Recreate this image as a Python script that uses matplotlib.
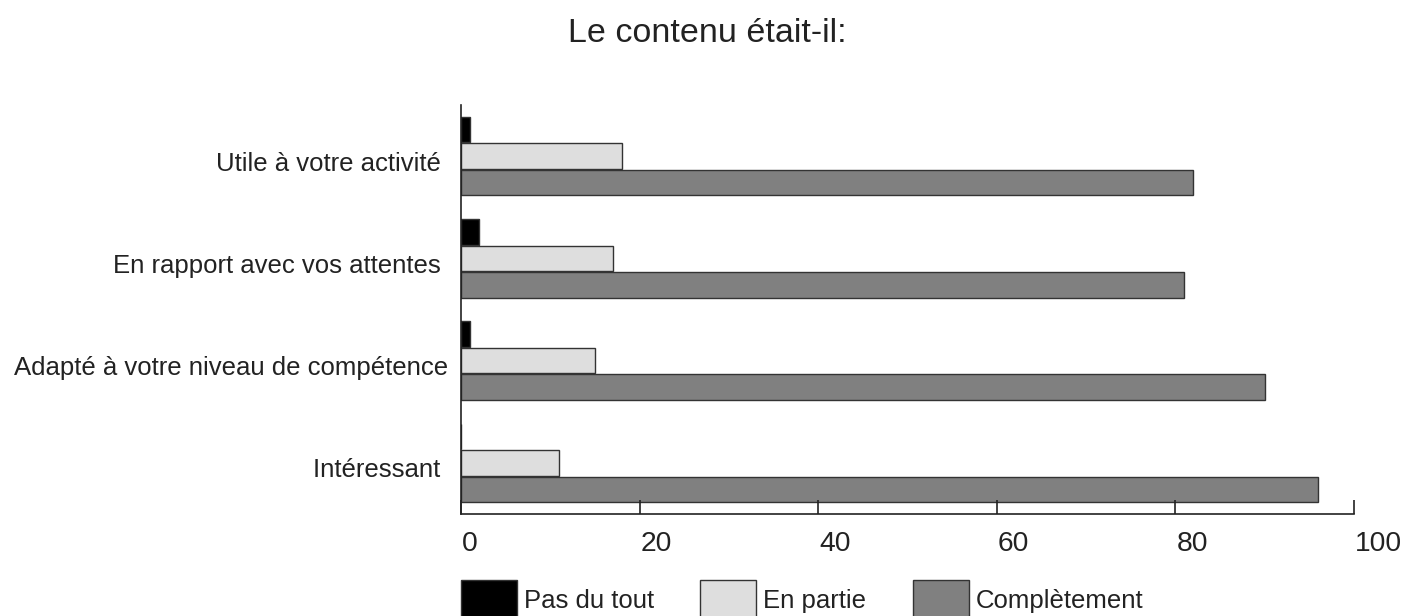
import matplotlib
matplotlib.use("Agg")
import matplotlib.pyplot as plt
import matplotlib.transforms as mtransforms
import numpy as np

plt.rcParams['font.family'] = ['Liberation Sans', 'DejaVu Sans']

title = "Le contenu était-il:"
categories = ["Utile à votre activité ", "En rapport avec vos attentes ",
              "Adapté à votre niveau de compétence", "Intéressant "]
series_names = ["Pas du tout", "En partie", "Complètement"]
pas_du_tout = [1, 2, 1, 0]
en_partie = [18, 17, 15, 11]
completement = [82, 81, 90, 96]
xticks = [0, 20, 40, 60, 80, 100]

colors = ["#000000", "#dedede", "#808080"]
text_color = "#222222"

fig = plt.figure(figsize=(14.07, 6.16), dpi=100)
ax = fig.add_axes([461/1407, 1-514/616, (1354-461)/1407, (514-105)/616])

y = np.arange(len(categories))
h = 0.25
offsets = [-0.26, 0.0, 0.26]
for vals, off, c, name in zip([pas_du_tout, en_partie, completement], offsets, colors, series_names):
    ax.barh(y + off, vals, height=h, color=c, edgecolor="#333333", linewidth=1.0, label=name)

ax.set_xlim(0, 100)
ax.set_ylim(3.5, -0.5)
ax.set_xticks(xticks)
ax.set_xticklabels([str(t) for t in xticks], fontsize=20.3, color=text_color)
ax.tick_params(axis='x', direction='in', length=10, width=1.2, pad=12, color="#222222")
shift = mtransforms.ScaledTranslation(1/100, 0, fig.dpi_scale_trans)
for lbl in ax.get_xticklabels():
    lbl.set_ha('left')
    lbl.set_transform(lbl.get_transform() + shift)
ax.set_yticks(y + 0.05)
ax.set_yticklabels(categories, fontsize=18.5, color=text_color)
ax.tick_params(axis='y', length=0, pad=9.5)
for s in ['top', 'right']:
    ax.spines[s].set_visible(False)
for s in ['left', 'bottom']:
    ax.spines[s].set_linewidth(1.2)
    ax.spines[s].set_color("#222222")

fig.text(707.5/1407, 1-42/616, title, ha='center', va='baseline', fontsize=24.5, color=text_color)

leg = fig.legend(loc='lower left', bbox_to_anchor=(461/1407, -5/616), ncol=3, frameon=False,
                 fontsize=18.5, handlelength=2.18, handleheight=2.1, handletextpad=0.27,
                 columnspacing=1.8, borderaxespad=0, borderpad=0)
for t in leg.get_texts():
    t.set_color(text_color)

fig.savefig("out.png", dpi=100)
